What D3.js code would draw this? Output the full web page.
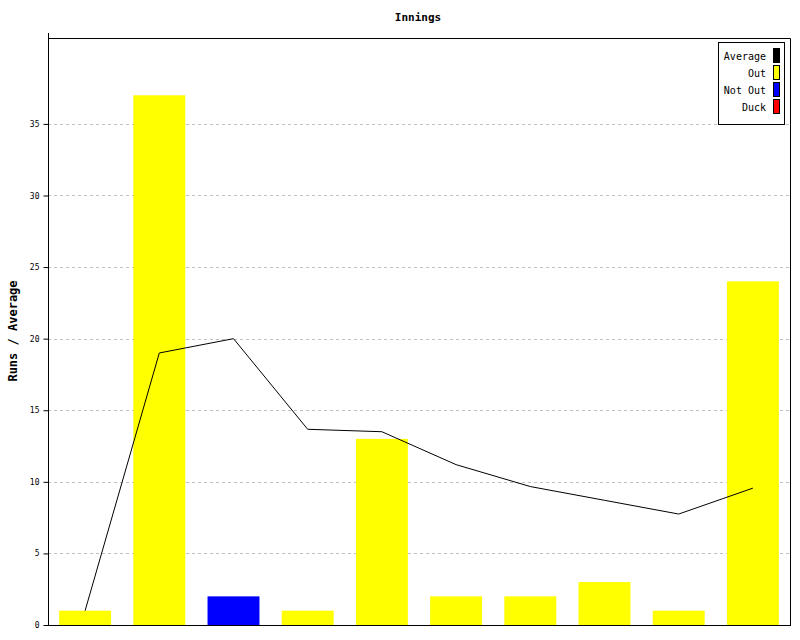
<!DOCTYPE html>
<html><head><meta charset="utf-8">
<script src="https://cdn.jsdelivr.net/npm/d3@7"></script>
<style>body{margin:0;background:#fff}svg{display:block}text{font-family:"DejaVu Sans Mono",monospace}</style>
</head><body>
<script>
const innings = ["1","2","3","4","5","6","7","8","9","10"];
const runs = [1, 37, 2, 1, 13, 2, 2, 3, 1, 24];
const status = ["Out","Out","Not Out","Out","Out","Out","Out","Out","Out","Out"];
const average = [1, 19, 20, 13.67, 13.5, 11.2, 9.67, 8.71, 7.75, 9.56];
const yTicks = [0, 5, 10, 15, 20, 25, 30, 35];
const legendItems = ["Average", "Out", "Not Out", "Duck"];
const legendColors = ["#000000", "#ffff00", "#0000ff", "#ff0000"];

const W = 800, H = 640;
const m = {left: 48, right: 10, top: 38, bottom: 15};
const svg = d3.select("body").append("svg").attr("width", W).attr("height", H);

const x = d3.scaleBand().domain(innings).range([m.left, W - m.right]).paddingInner(0.3).paddingOuter(0.15);
const y = d3.scaleLinear().domain([0, 41]).range([H - m.bottom, m.top]);
const color = d3.scaleOrdinal().domain(legendItems).range(legendColors);

// grid
svg.append("g").selectAll("line").data(yTicks.filter(d => d > 0)).join("line")
  .attr("x1", m.left).attr("x2", W - m.right)
  .attr("y1", d => Math.round(y(d)) + 0.5).attr("y2", d => Math.round(y(d)) + 0.5)
  .attr("stroke", "#c0c0c0").attr("stroke-dasharray", "3,3");

// bars
svg.append("g").selectAll("rect").data(runs).join("rect")
  .attr("x", (d, i) => x(innings[i])).attr("width", x.bandwidth())
  .attr("y", d => y(d)).attr("height", d => y(0) - y(d))
  .attr("fill", (d, i) => color(d === 0 ? "Duck" : status[i]));

// average line
const line = d3.line().x((d, i) => x(innings[i]) + x.bandwidth() / 2).y(d => y(d));
svg.append("path").datum(average).attr("d", line).attr("fill", "none").attr("stroke", "#000").attr("stroke-width", 1);

// frame
svg.append("path").attr("d", `M${m.left + 0.5},${m.top + 0.5}H${W - m.right + 0.5}V${H - m.bottom + 0.5}`)
  .attr("fill", "none").attr("stroke", "#000");

// y axis
const yAxis = d3.axisLeft(y).tickValues(yTicks).tickSize(5).tickPadding(4);
const ga = svg.append("g").attr("transform", `translate(${m.left + 0.5},0)`).call(yAxis);
ga.select(".domain").remove();
ga.append("line").attr("x1", 0).attr("x2", 0).attr("y1", m.top - 5).attr("y2", y(0) + 0.5).attr("stroke", "#000");
ga.selectAll("text").attr("font-size", 8).attr("fill", "#000").attr("font-family", "DejaVu Sans Mono, monospace");
ga.selectAll(".tick line").attr("stroke", "#000");
// x axis baseline
svg.append("line").attr("x1", m.left).attr("x2", W - m.right + 1)
  .attr("y1", y(0) + 0.5).attr("y2", y(0) + 0.5).attr("stroke", "#000");

// title
svg.append("text").attr("x", 418).attr("y", 21).attr("text-anchor", "middle")
  .attr("font-size", 11).attr("font-weight", "bold").text("Innings");

// y label
svg.append("text").attr("transform", `translate(17,${331}) rotate(-90)`).attr("text-anchor", "middle")
  .attr("font-size", 12).attr("font-weight", "bold").text("Runs / Average");

// legend
const lg = svg.append("g");
lg.append("rect").attr("x", 718.5).attr("y", 42.5).attr("width", 66).attr("height", 82)
  .attr("fill", "#fff").attr("stroke", "#000");
legendItems.forEach((k, i) => {
  const cy = 56 + i * 17;
  lg.append("text").attr("x", 766).attr("y", cy + 4).attr("text-anchor", "end")
    .attr("font-size", 10).text(k);
  lg.append("rect").attr("x", 773.5).attr("y", cy - 7.5).attr("width", 6).attr("height", 14)
    .attr("fill", color(k)).attr("stroke", "#000");
});
</script>
</body></html>
